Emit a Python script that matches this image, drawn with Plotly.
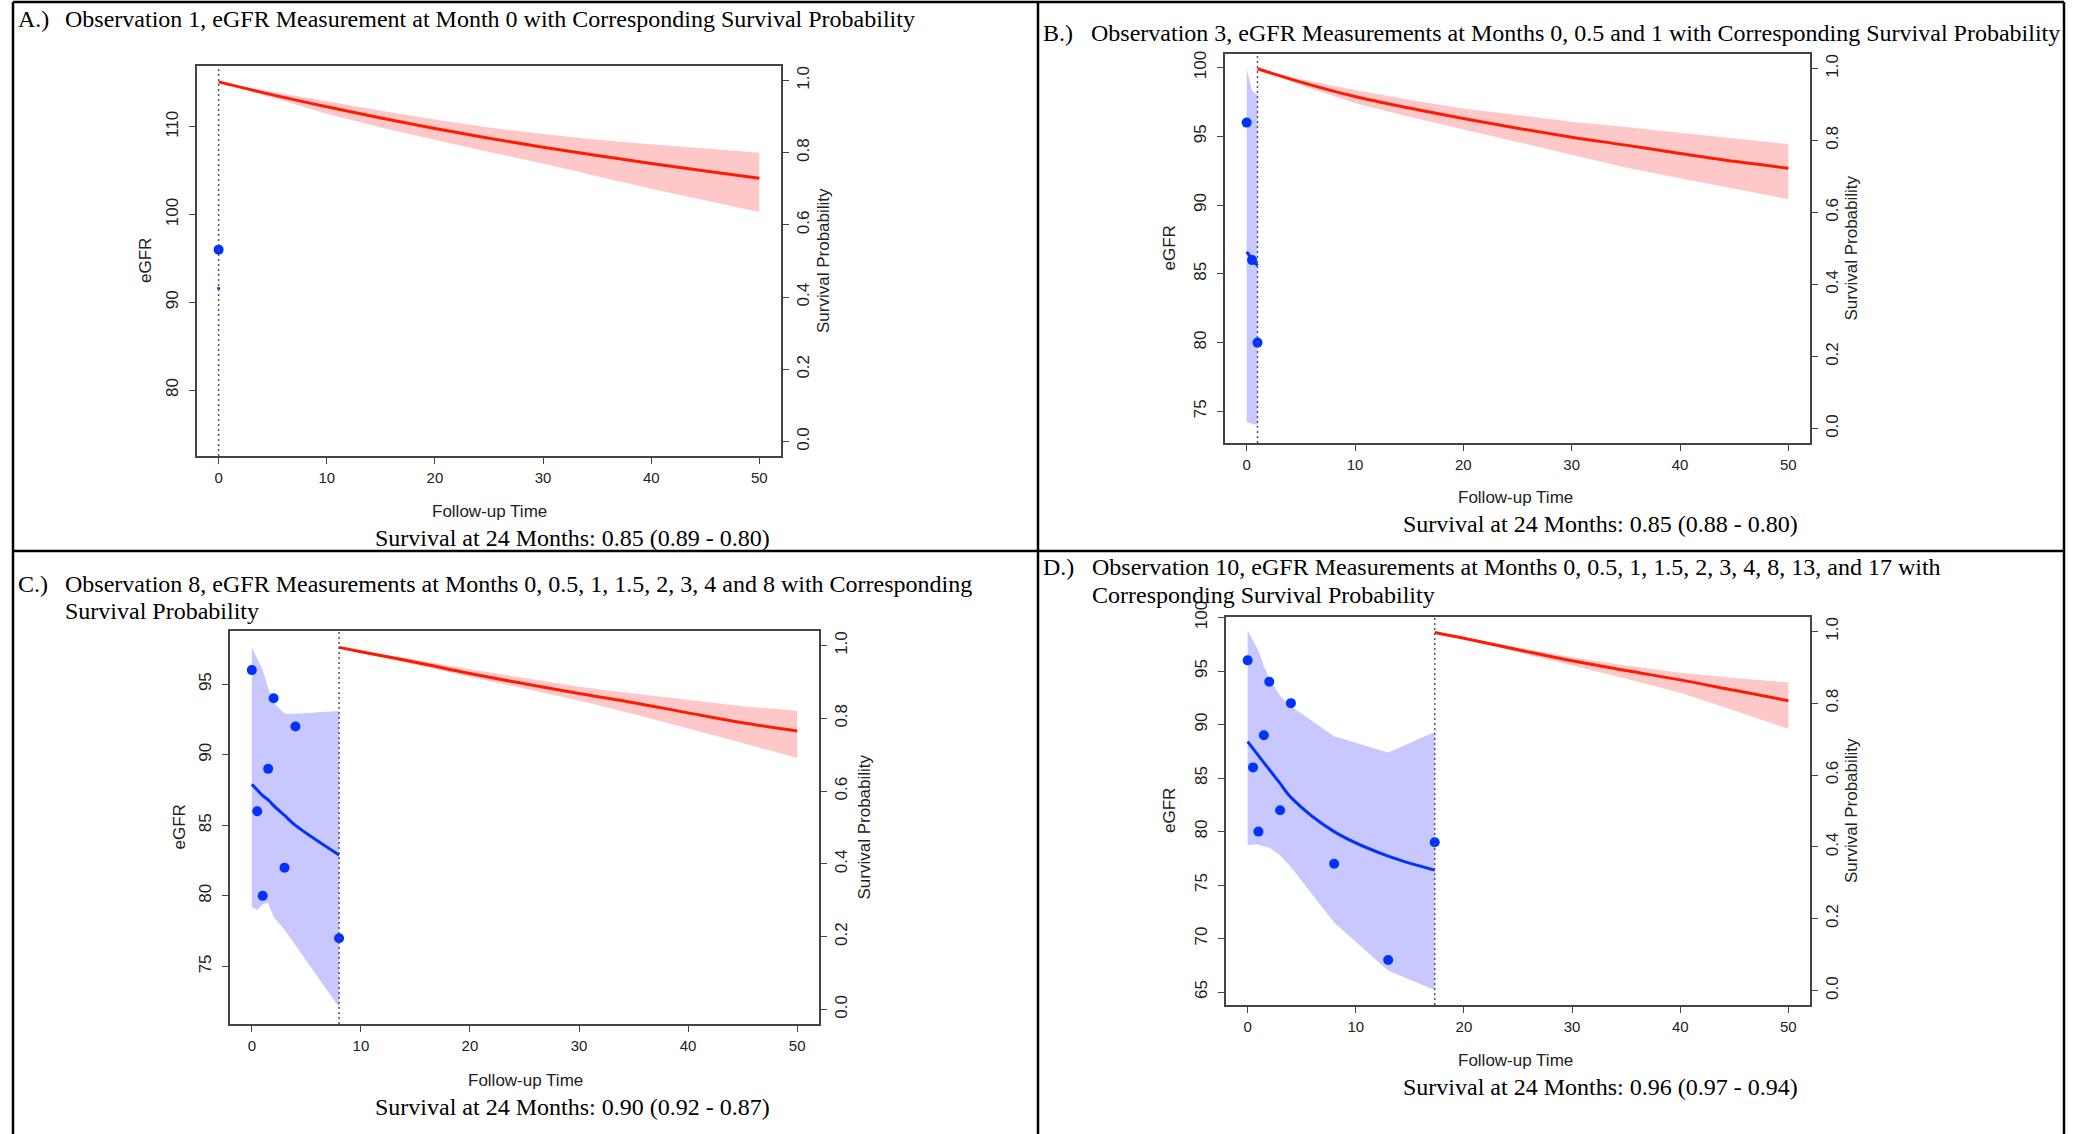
import plotly.graph_objects as go

W, H = 2078, 1134

# ---------------- data ----------------
# Panel A
A_red_t = [0, 5, 10, 15, 20, 25, 30, 35, 40, 45, 50]
A_surv = [0.996, 0.960, 0.927, 0.896, 0.867, 0.840, 0.815, 0.792, 0.770, 0.749, 0.729]
A_surv_up = [0.996, 0.968, 0.943, 0.916, 0.892, 0.870, 0.852, 0.836, 0.823, 0.811, 0.800]
A_surv_lo = [0.996, 0.952, 0.908, 0.870, 0.835, 0.802, 0.770, 0.735, 0.700, 0.668, 0.636]
A_meas_t = [0]
A_meas = [96]
A_fit_t = [0]
A_fit = [91.6]
A_fit_up = []
A_fit_lo = []
A_land = 0

# Panel B
B_red_t = [1, 5, 10, 15, 20, 25, 30, 35, 40, 45, 50]
B_surv = [0.999, 0.962, 0.922, 0.890, 0.861, 0.834, 0.809, 0.787, 0.764, 0.742, 0.723]
B_surv_up = [0.999, 0.970, 0.940, 0.913, 0.889, 0.870, 0.852, 0.837, 0.822, 0.806, 0.790]
B_surv_lo = [0.999, 0.954, 0.903, 0.866, 0.830, 0.795, 0.760, 0.725, 0.695, 0.665, 0.637]
B_meas_t = [0, 0.5, 1]
B_meas = [96, 86, 80]
B_fit_t = [0, 0.5, 1]
B_fit = [86.6, 86.1, 85.6]
B_fit_up = [99.9, 98.3, 98.0]
B_fit_lo = [74.2, 74.1, 74.0]
B_land = 1

# Panel C
C_red_t = [8, 10, 15, 20, 25, 30, 35, 40, 45, 50]
C_surv = [0.995, 0.983, 0.954, 0.923, 0.895, 0.868, 0.843, 0.815, 0.788, 0.765]
C_surv_up = [0.995, 0.986, 0.962, 0.935, 0.910, 0.887, 0.868, 0.850, 0.833, 0.821]
C_surv_lo = [0.995, 0.980, 0.946, 0.914, 0.882, 0.849, 0.812, 0.773, 0.732, 0.691]
C_meas_t = [0, 0.5, 1, 1.5, 2, 3, 4, 8]
C_meas = [96, 86, 80, 89, 94, 82, 92, 77]
C_fit_t = [0, 0.5, 1, 1.5, 2, 3, 4, 8]
C_fit = [87.9, 87.5, 87.1, 86.8, 86.4, 85.7, 85.0, 82.9]
C_fit_up = [97.6, 96.85, 96.0, 94.7, 93.7, 92.9, 92.9, 93.1]
C_fit_lo = [79.2, 79.0, 79.4, 79.5, 78.5, 77.6, 76.5, 72.1]
C_land = 8

# Panel D
D_red_t = [17.3, 20, 25, 30, 35, 40, 45, 50]
D_surv = [0.997, 0.981, 0.949, 0.918, 0.891, 0.865, 0.836, 0.807]
D_surv_up = [0.997, 0.983, 0.955, 0.928, 0.905, 0.885, 0.870, 0.858]
D_surv_lo = [0.997, 0.979, 0.942, 0.904, 0.868, 0.829, 0.780, 0.729]
D_meas_t = [0, 0.5, 1, 1.5, 2, 3, 4, 8, 13, 17.3]
D_meas = [96, 86, 80, 89, 94, 82, 92, 77, 68, 79]
D_fit_t = [0, 0.5, 1, 1.5, 2, 3, 4, 8, 13, 17.3]
D_fit = [88.4, 87.75, 87.1, 86.45, 85.8, 84.5, 83.2, 80.0, 77.7, 76.4]
D_fit_up = [98.8, 97.8, 96.9, 95.5, 94.3, 92.7, 91.7, 88.9, 87.4, 89.3]
D_fit_lo = [78.7, 78.8, 78.8, 78.6, 78.5, 77.8, 76.7, 71.5, 67.0, 65.2]
D_land = 17.3

x_ticks = [0, 10, 20, 30, 40, 50]
surv_ticks = [0.0, 0.2, 0.4, 0.6, 0.8, 1.0]
surv_tick_text = ["0.0", "0.2", "0.4", "0.6", "0.8", "1.0"]
A_egfr_ticks = [80, 90, 100, 110]
B_egfr_ticks = [75, 80, 85, 90, 95, 100]
C_egfr_ticks = [75, 80, 85, 90, 95]
D_egfr_ticks = [65, 70, 75, 80, 85, 90, 95, 100]

titles = {
    "A": ["Observation 1, eGFR Measurement at Month 0 with Corresponding Survival Probability"],
    "B": ["Observation 3, eGFR Measurements at Months 0, 0.5 and 1 with Corresponding Survival Probability"],
    "C": ["Observation 8, eGFR Measurements at Months 0, 0.5, 1, 1.5, 2, 3, 4 and 8 with Corresponding",
          "Survival Probability"],
    "D": ["Observation 10, eGFR Measurements at Months 0, 0.5, 1, 1.5, 2, 3, 4, 8, 13, and 17 with",
          "Corresponding Survival Probability"],
}
captions = {
    "A": "Survival at 24 Months: 0.85 (0.89 - 0.80)",
    "B": "Survival at 24 Months: 0.85 (0.88 - 0.80)",
    "C": "Survival at 24 Months: 0.90 (0.92 - 0.87)",
    "D": "Survival at 24 Months: 0.96 (0.97 - 0.94)",
}

# ---------------- layout geometry (pixels) ----------------
panels = {
    "A": dict(box=(197, 781, 66, 456), yr=(72.48, 116.93), yt=A_egfr_ticks,
              red=(A_red_t, A_surv, A_surv_up, A_surv_lo),
              blue=(A_meas_t, A_meas, A_fit_t, A_fit, A_fit_up, A_fit_lo), land=A_land,
              label="A.)", lab_x=16, tit_x=63, tit_y=[19],
              xlab=(489, 511), cap=(572, 538), eg_x=146, sp_x=824),
    "B": dict(box=(1225, 1810, 54, 443), yr=(72.7, 100.99), yt=B_egfr_ticks,
              red=(B_red_t, B_surv, B_surv_up, B_surv_lo),
              blue=(B_meas_t, B_meas, B_fit_t, B_fit, B_fit_up, B_fit_lo), land=B_land,
              label="B.)", lab_x=1041, tit_x=1089, tit_y=[33],
              xlab=(1515, 498), cap=(1600, 524), eg_x=1169, sp_x=1851),
    "C": dict(box=(230, 819, 631, 1024), yr=(70.92, 98.77), yt=C_egfr_ticks,
              red=(C_red_t, C_surv, C_surv_up, C_surv_lo),
              blue=(C_meas_t, C_meas, C_fit_t, C_fit, C_fit_up, C_fit_lo), land=C_land,
              label="C.)", lab_x=16, tit_x=63, tit_y=[584, 611],
              xlab=(525, 1080), cap=(572, 1107), eg_x=179, sp_x=864),
    "D": dict(box=(1226, 1810, 617, 1005), yr=(63.8, 100.05), yt=D_egfr_ticks,
              red=(D_red_t, D_surv, D_surv_up, D_surv_lo),
              blue=(D_meas_t, D_meas, D_fit_t, D_fit, D_fit_up, D_fit_lo), land=D_land,
              label="D.)", lab_x=1041, tit_x=1090, tit_y=[567, 595],
              xlab=(1515, 1060), cap=(1600, 1087), eg_x=1169, sp_x=1851),
}

def px(x):
    return x / W

def py(y):
    return 1 - y / H

RED = "#ff1a00"
RED_BAND = "rgb(255,200,200)"
BLUE = "#0033ff"
BLUE_BAND = "rgb(200,200,255)"
AXC = "#444444"
TXT = "#222222"
SANS = "Liberation Sans"
SERIF = "Liberation Serif"

fig = go.Figure()
annotations = []
shapes = []
layout = {}

for i, key in enumerate(["A", "B", "C", "D"]):
    p = panels[key]
    xn = "" if i == 0 else str(i + 1)
    yl = "" if i == 0 else str(2 * i + 1)
    yr = str(2 * i + 2)
    xa, yla, yra = "x" + xn, "y" + yl, "y" + yr
    x0, x1, y0, y1 = p["box"]
    dom_x = [px(x0), px(x1)]
    dom_y = [py(y1), py(y0)]

    layout["xaxis" + xn] = dict(domain=dom_x, anchor=yla, range=[-2, 52], tickvals=x_ticks,
                                ticks="outside", ticklen=6, tickcolor=AXC, showline=True,
                                linecolor=AXC, linewidth=1.5, mirror=True, showgrid=False,
                                zeroline=False, tickfont=dict(family=SANS, size=15, color=TXT),
                                ticklabelstandoff=1, automargin=False)
    layout["yaxis" + yl] = dict(domain=dom_y, anchor=xa, range=list(p["yr"]), tickvals=p["yt"],
                                ticks="outside", ticklen=6, tickcolor=AXC, showline=True,
                                linecolor=AXC, linewidth=1.5, mirror=True, showgrid=False,
                                zeroline=False, tickangle=-90,
                                tickfont=dict(family=SANS, size=17, color=TXT),
                                ticklabelstandoff=4, automargin=False)
    layout["yaxis" + yr] = dict(domain=dom_y, anchor=xa, overlaying=yla, side="right",
                                range=[-0.04, 1.04], tickvals=surv_ticks, ticktext=surv_tick_text,
                                ticks="outside", ticklen=6, tickcolor=AXC, showline=True,
                                linecolor=AXC, linewidth=1.5, showgrid=False, zeroline=False,
                                tickangle=-90, tickfont=dict(family=SANS, size=17, color=TXT),
                                ticklabelstandoff=0, automargin=False)

    rt, rs, ru, rl = p["red"]
    fig.add_trace(go.Scatter(x=list(rt) + list(rt)[::-1], y=list(ru) + list(rl)[::-1],
                             fill="toself", fillcolor=RED_BAND, line=dict(width=0),
                             mode="lines", hoverinfo="skip", showlegend=False,
                             xaxis=xa, yaxis=yra))
    fig.add_trace(go.Scatter(x=rt, y=rs, mode="lines", line=dict(color=RED, width=3, shape="spline"),
                             showlegend=False, xaxis=xa, yaxis=yra))

    mt, mv, ft, fv, fu, fl = p["blue"]
    if len(fu) > 0:
        fig.add_trace(go.Scatter(x=list(ft) + list(ft)[::-1], y=list(fu) + list(fl)[::-1],
                                 fill="toself", fillcolor=BLUE_BAND, line=dict(width=0),
                                 mode="lines", hoverinfo="skip", showlegend=False,
                                 xaxis=xa, yaxis=yla))
    if len(ft) > 1:
        fig.add_trace(go.Scatter(x=ft, y=fv, mode="lines", line=dict(color=BLUE, width=3, shape="spline"),
                                 showlegend=False, xaxis=xa, yaxis=yla))
    else:
        fig.add_trace(go.Scatter(x=ft, y=fv, mode="markers", marker=dict(color=BLUE, size=3),
                                 showlegend=False, xaxis=xa, yaxis=yla))
    fig.add_trace(go.Scatter(x=mt, y=mv, mode="markers", marker=dict(color=BLUE, size=10),
                             showlegend=False, xaxis=xa, yaxis=yla))

    # landmark dotted line
    shapes.append(dict(type="line", xref=xa, yref=yla + " domain", x0=p["land"], x1=p["land"],
                       y0=0, y1=1, line=dict(color="#555555", width=1.5, dash="2px,3px")))

    # panel label & title
    annotations.append(dict(text=p["label"], x=px(p["lab_x"]), y=py(p["tit_y"][0]), xref="paper",
                            yref="paper", xanchor="left", yanchor="middle", showarrow=False,
                            font=dict(family=SERIF, size=24, color="black")))
    for line_txt, ty in zip(titles[key], p["tit_y"]):
        annotations.append(dict(text=line_txt, x=px(p["tit_x"]), y=py(ty), xref="paper",
                                yref="paper", xanchor="left", yanchor="middle", showarrow=False,
                                font=dict(family=SERIF, size=24, color="black")))
    # axis titles
    annotations.append(dict(text="Follow-up Time", x=px(p["xlab"][0]), y=py(p["xlab"][1]),
                            xref="paper", yref="paper", xanchor="center", yanchor="middle",
                            showarrow=False, font=dict(family=SANS, size=17, color=TXT)))
    cy = (y0 + y1) / 2
    annotations.append(dict(text="eGFR", x=px(p["eg_x"]), y=py(cy), xref="paper", yref="paper",
                            xanchor="center", yanchor="middle", textangle=-90, showarrow=False,
                            font=dict(family=SANS, size=17, color=TXT)))
    annotations.append(dict(text="Survival Probability", x=px(p["sp_x"]), y=py(cy), xref="paper",
                            yref="paper", xanchor="center", yanchor="middle", textangle=-90,
                            showarrow=False, font=dict(family=SANS, size=17, color=TXT)))
    annotations.append(dict(text=captions[key], x=px(p["cap"][0]), y=py(p["cap"][1]),
                            xref="paper", yref="paper", xanchor="center", yanchor="middle",
                            showarrow=False, font=dict(family=SERIF, size=24, color="black")))

# table borders
border = dict(color="black", width=2.5)
for (bx0, by0, bx1, by1) in [(13, 2, 2064, 2), (13, 2, 13, 1134), (2064, 2, 2064, 1134),
                             (1038, 2, 1038, 1134), (13, 551, 2064, 551)]:
    shapes.append(dict(type="line", xref="paper", yref="paper", x0=px(bx0), x1=px(bx1),
                       y0=py(by0), y1=py(by1), line=border))

fig.update_layout(width=W, height=H,
                  margin=dict(l=0, r=0, t=0, b=0, pad=0, autoexpand=False),
                  paper_bgcolor="white", plot_bgcolor="white",
                  title=dict(text=""),
                  annotations=annotations, shapes=shapes, showlegend=False, **layout)

post = (
    "document.body.style.margin='0';document.body.style.padding='0';"
    "document.body.style.overflow='hidden';"
)
fig.write_html("out.html", config={"displayModeBar": False}, post_script=post)
